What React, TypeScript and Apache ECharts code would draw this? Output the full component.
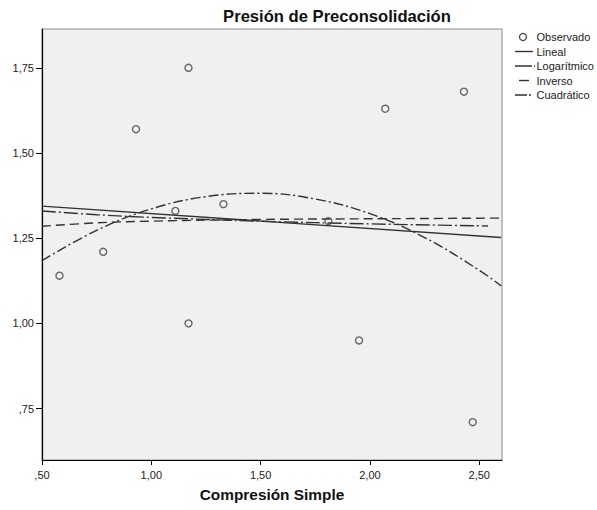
import React, { useEffect, useRef } from "react";
import * as echarts from "echarts";

// Observed points
const obsX = [0.58, 0.78, 0.93, 1.11, 1.17, 1.17, 1.33, 1.81, 1.95, 2.07, 2.43, 2.47];
const obsY = [1.14, 1.21, 1.57, 1.33, 1.75, 1.0, 1.35, 1.3, 0.95, 1.63, 1.68, 0.71];

// Fitted curves
const linealX = [0.5, 2.6];
const linealY = [1.344, 1.252];
const logX = [0.5, 0.75, 1.0, 1.5, 2.0, 2.54];
const logY = [1.33, 1.319, 1.311, 1.3, 1.292, 1.286];
const invX = [0.5, 0.75, 1.0, 1.5, 2.0, 2.6];
const invY = [1.285, 1.295, 1.3, 1.305, 1.307, 1.309];
const quadX = [0.5, 0.75, 1.0, 1.25, 1.5, 1.75, 2.0, 2.25, 2.5, 2.6];
const quadY = [1.184, 1.273, 1.336, 1.372, 1.382, 1.365, 1.322, 1.252, 1.156, 1.11];

// Ticks
const xTicks = [0.5, 1.0, 1.5, 2.0, 2.5];
const yTicks = [0.75, 1.0, 1.25, 1.5, 1.75];

const legendNames = ["Observado", "Lineal", "Logarítmico", "Inverso", "Cuadrático"];

const FONT = "'Liberation Sans', Arial, sans-serif";
const LINE = "#333";
const DASH_LOG = [14, 3, 2, 3];
const DASH_INV = [9, 5];
const DASH_QUAD = [10, 3, 2, 3];

const fmt = (v: number) => v.toFixed(2).replace(".", ",").replace(/^0/, "");
const zip = (a: number[], b: number[]) => a.map((v, i) => [v, b[i]]);

export default function App() {
  const ref = useRef<HTMLDivElement>(null);
  useEffect(() => {
    document.body.style.margin = "0";
    if (!ref.current) return;
    const chart = echarts.init(ref.current, undefined, { renderer: "svg" });
    const lineSeries = (name: string, xs: number[], ys: number[], dash: any) => ({
      name,
      type: "line",
      data: zip(xs, ys),
      showSymbol: false,
      symbol: "none",
      smooth: 0.4,
      clip: true,
      lineStyle: { color: LINE, width: 1.4, type: dash },
      z: 3,
    });
    const legY = [37, 51.5, 66, 80.5, 95];
    const legendGraphics: any[] = [
      { type: "circle", shape: { cx: 523, cy: legY[0], r: 3.5 }, style: { fill: "none", stroke: "#444", lineWidth: 1.3 } },
      { type: "line", shape: { x1: 515, y1: legY[1], x2: 533, y2: legY[1] }, style: { stroke: LINE, lineWidth: 1.4 } },
      { type: "line", shape: { x1: 515, y1: legY[2], x2: 535, y2: legY[2] }, style: { stroke: LINE, lineWidth: 1.4, lineDash: [17, 2, 1, 3] } },
      { type: "line", shape: { x1: 519, y1: legY[3], x2: 529, y2: legY[3] }, style: { stroke: LINE, lineWidth: 1.4 } },
      { type: "line", shape: { x1: 515, y1: legY[4], x2: 533, y2: legY[4] }, style: { stroke: LINE, lineWidth: 1.4, lineDash: [12, 2, 2, 2] } },
      ...legendNames.map((n, i) => ({
        type: "text",
        x: 536.5,
        y: legY[i],
        style: { text: n, fontSize: 11, fontFamily: FONT, fill: "#1a1a1a", textVerticalAlign: "middle", textAlign: "left" },
      })),
    ];
    chart.setOption({
      animation: false,
      backgroundColor: "#fff",
      grid: {
        left: 42,
        right: 95,
        top: 29,
        bottom: 50,
        show: true,
        backgroundColor: "#f0f0f0",
        borderColor: "#8a8a8a",
        borderWidth: 1,
      },
      xAxis: {
        type: "value",
        min: 0.5,
        max: 2.604,
        axisLine: { show: true, onZero: false, lineStyle: { color: "#000", width: 1.2 } },
        axisTick: { show: true, length: 5, customValues: xTicks, lineStyle: { color: "#000" } },
        axisLabel: { customValues: xTicks, formatter: (v: number) => fmt(v), fontSize: 11, fontFamily: FONT, color: "#222", margin: 9 },
        splitLine: { show: false },
      },
      yAxis: {
        type: "value",
        min: 0.599,
        max: 1.864,
        axisLine: { show: true, onZero: false, lineStyle: { color: "#000", width: 1.2 } },
        axisTick: { show: true, length: 6, customValues: yTicks, lineStyle: { color: "#000" } },
        axisLabel: { customValues: yTicks, formatter: (v: number) => fmt(v), fontSize: 11, fontFamily: FONT, color: "#222", margin: 8 },
        splitLine: { show: false },
      },
      series: [
        lineSeries("Lineal", linealX, linealY, "solid"),
        lineSeries("Logarítmico", logX, logY, DASH_LOG),
        lineSeries("Inverso", invX, invY, DASH_INV),
        lineSeries("Cuadrático", quadX, quadY, DASH_QUAD),
        {
          name: "Observado",
          type: "scatter",
          data: zip(obsX, obsY),
          symbol: "circle",
          symbolSize: 7,
          itemStyle: { color: "rgba(0,0,0,0)", borderColor: "#444", borderWidth: 1.4 },
          z: 5,
        },
      ],
      graphic: [
        {
          type: "text",
          x: 337,
          y: 16,
          style: { text: "Presión de Preconsolidación", fontSize: 16.6, fontWeight: "bold", fontFamily: FONT, fill: "#111", textAlign: "center", textVerticalAlign: "middle" },
        },
        {
          type: "text",
          x: 272,
          y: 494,
          style: { text: "Compresión Simple", fontSize: 15.4, fontWeight: "bold", fontFamily: FONT, fill: "#111", textAlign: "center", textVerticalAlign: "middle" },
        },
        ...legendGraphics,
      ],
    });
    return () => chart.dispose();
  }, []);
  return <div ref={ref} style={{ width: 597, height: 510 }} />;
}
